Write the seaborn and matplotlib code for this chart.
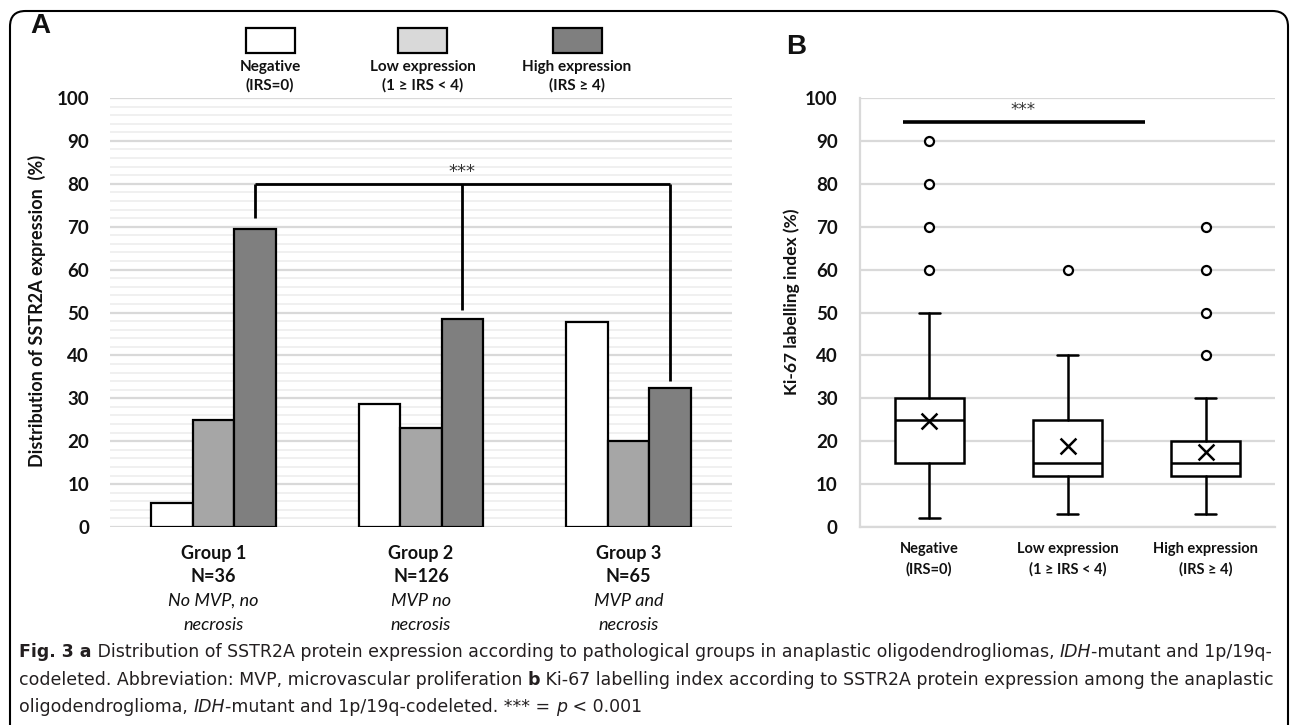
import matplotlib
matplotlib.use("Agg")
import matplotlib.pyplot as plt
from matplotlib.patches import Rectangle, FancyBboxPatch
from matplotlib.transforms import blended_transform_factory
import seaborn as sns
import pandas as pd
import numpy as np

# ---------------- data ----------------
groups = ["Group 1", "Group 2", "Group 3"]
group_n = ["N=36", "N=126", "N=65"]
group_desc = [["No MVP, no", "necrosis"], ["MVP no", "necrosis"], ["MVP and", "necrosis"]]
expr_levels = ["Negative", "Low expression", "High expression"]
expr_irs = ["(IRS=0)", "(1 \u2265 IRS < 4)", "(IRS \u2265 4)"]
negative_pct = [5.6, 28.6, 47.7]
low_pct = [25.0, 23.0, 20.0]
high_pct = [69.4, 48.4, 32.3]

# Ki-67 box statistics per SSTR2A class
box_labels = ["Negative", "Low expression", "High expression"]
ki_whislo = [2, 3, 3]
ki_q1 = [15, 12, 12]
ki_med = [25, 15, 15]
ki_q3 = [30, 25, 20]
ki_whishi = [50, 40, 30]
ki_mean = [24.8, 18.8, 17.5]
ki_fliers = [[60, 70, 80, 90], [60], [40, 50, 60, 70]]

# ---------------- style ----------------
sns.set_theme(style="white")
plt.rcParams["font.family"] = ["Lato", "DejaVu Sans"]
W, H = 1295, 725
fig = plt.figure(figsize=(W / 100, H / 100), dpi=100)
fig.patch.set_facecolor("white")


def fx(x):
    return x / W


def fy(y):
    return 1 - y / H


bar_colors = ["#ffffff", "#a6a6a6", "#7f7f7f"]
legend_colors = ["#ffffff", "#d9d9d9", "#7f7f7f"]

# ---------------- panel A ----------------
axA = fig.add_axes([fx(110), fy(527), fx(732) - fx(110), fy(98) - fy(527)])
df = pd.DataFrame({
    "group": np.repeat(groups, 3),
    "expr": expr_levels * 3,
    "value": [v for trip in zip(negative_pct, low_pct, high_pct) for v in trip],
})
sns.barplot(data=df, x="group", y="value", hue="expr", hue_order=expr_levels,
            palette=bar_colors, saturation=1, width=0.6, errorbar=None,
            edgecolor="black", linewidth=1.6, legend=False, ax=axA, zorder=3)
axA.set_xlim(-0.5, 2.5)
axA.set_ylim(0, 100)
axA.set_yticks(range(0, 101, 10))
axA.set_yticks(range(0, 101, 2), minor=True)
axA.grid(True, which="minor", axis="y", color="#eeeeee", lw=1.2, zorder=0)
axA.grid(True, which="major", axis="y", color="#d9d9d9", lw=1.6, zorder=0)
axA.set_axisbelow(True)
for s in axA.spines.values():
    s.set_visible(False)
axA.tick_params(axis="y", which="both", length=0, pad=15)
axA.tick_params(axis="x", length=0)
for lab in axA.get_yticklabels():
    lab.set_fontweight("bold")
    lab.set_fontsize(13.5)
    lab.set_color("#111111")
axA.set_xticks([0, 1, 2])
axA.set_xticklabels([])
axA.set_xlabel("")
axA.set_ylabel("")

tr = blended_transform_factory(axA.transData, fig.transFigure)
for i in range(3):
    axA.text(i, fy(553), groups[i], transform=tr, ha="center", va="center",
             fontsize=13, fontweight="bold", color="#111111")
    axA.text(i, fy(577), group_n[i], transform=tr, ha="center", va="center",
             fontsize=13, fontweight="bold", color="#111111")
    axA.text(i, fy(601), group_desc[i][0], transform=tr, ha="center", va="center",
             fontsize=13, style="italic", color="#111111")
    axA.text(i, fy(625), group_desc[i][1], transform=tr, ha="center", va="center",
             fontsize=13, style="italic", color="#111111")

fig.text(fx(37), fy(311), "Distribution of SSTR2A expression  (%)", rotation=90,
         ha="center", va="center", fontsize=13, fontweight="bold", color="#111111")

# significance bracket in A
bx = [0.2, 1.2, 2.2]
bottoms = [72, 50.5, 34]
axA.plot([bx[0], bx[2]], [80, 80], color="black", lw=2, zorder=4, solid_capstyle="butt")
for xb, yb in zip(bx, bottoms):
    axA.plot([xb, xb], [yb, 80], color="black", lw=2, zorder=4, solid_capstyle="butt")
axA.text(1.2, 80.6, "***", ha="center", va="bottom", fontsize=13,
         family=["DejaVu Sans"], color="#333333")

# legend A
legend_x = [270, 423, 577]
for cx, col, name, irs in zip(legend_x, legend_colors, expr_levels, expr_irs):
    fig.patches.append(Rectangle((fx(cx - 24.5), fy(53)), 49 / W, 25 / H,
                                 transform=fig.transFigure, facecolor=col,
                                 edgecolor="black", lw=1.6))
    fig.text(fx(cx), fy(67), name, ha="center", va="center", fontsize=11,
             fontweight="bold", color="#111111")
    fig.text(fx(cx), fy(85), irs, ha="center", va="center", fontsize=11,
             fontweight="bold", color="#111111")

fig.text(fx(40), fy(26), "A", ha="center", va="center", fontsize=20,
         fontweight="bold", family=["Liberation Sans", "DejaVu Sans"], color="#111111")
fig.text(fx(796), fy(47), "B", ha="center", va="center", fontsize=20,
         fontweight="bold", family=["Liberation Sans", "DejaVu Sans"], color="#111111")

# ---------------- panel B ----------------
axB = fig.add_axes([fx(860), fy(527), fx(1275) - fx(860), fy(98) - fy(527)])
stats = []
for i in range(3):
    stats.append(dict(label=box_labels[i], whislo=ki_whislo[i], q1=ki_q1[i],
                      med=ki_med[i], q3=ki_q3[i], whishi=ki_whishi[i],
                      mean=ki_mean[i], fliers=ki_fliers[i]))
lw = 1.8
axB.bxp(stats, positions=[0, 1, 2], widths=0.5, capwidths=0.15,
        showmeans=False, patch_artist=True,
        boxprops=dict(facecolor="white", edgecolor="black", lw=lw),
        whiskerprops=dict(color="black", lw=lw),
        capprops=dict(color="black", lw=lw),
        medianprops=dict(color="black", lw=lw),
        flierprops=dict(marker="o", markerfacecolor="white", markeredgecolor="black",
                        markersize=6.5, markeredgewidth=1.6),
        zorder=3)
sns.scatterplot(x=[0, 1, 2], y=ki_mean, marker="x", s=130, color="black",
                linewidth=1.8, ax=axB, zorder=5)
axB.set_xlim(-0.5, 2.5)
axB.set_ylim(0, 100)
axB.set_yticks(range(0, 101, 10))
axB.grid(True, axis="y", color="#d9d9d9", lw=1.6, zorder=0)
axB.set_axisbelow(True)
for k, s in axB.spines.items():
    if k in ("left", "bottom"):
        s.set_color("#d9d9d9")
        s.set_linewidth(1.6)
    else:
        s.set_visible(False)
axB.tick_params(axis="both", length=0)
axB.tick_params(axis="y", pad=16)
axB.tick_params(axis="x", pad=11)
axB.set_yticklabels([str(v) for v in range(0, 101, 10)], fontsize=13.5,
                    fontweight="bold", color="#111111")
axB.set_xticks([0, 1, 2])
axB.set_xticklabels([f"{a}\n{b}" for a, b in zip(box_labels, expr_irs)],
                    fontsize=10.5, fontweight="bold", color="#111111", linespacing=1.5)
axB.set_xlabel("")
axB.set_ylabel("")
fig.text(fx(792), fy(302), "Ki-67 labelling index (%)", rotation=90, ha="center",
         va="center", fontsize=12.5, fontweight="bold", color="#111111")
axB.plot([-0.19, 1.56], [94.5, 94.5], color="black", lw=2.6, zorder=4,
         solid_capstyle="butt")
axB.text(0.68, 95.2, "***", ha="center", va="bottom", fontsize=12,
         family=["DejaVu Sans"], color="#333333")

# ---------------- frame & caption ----------------
frame = FancyBboxPatch((fx(10), fy(760)), (1288 - 10) / W, (760 - 11) / H,
                       boxstyle="round,pad=0,rounding_size=0.012",
                       transform=fig.transFigure, facecolor="none",
                       edgecolor="black", lw=1.5, mutation_aspect=W / H)
fig.patches.append(frame)

cap_family = ["Liberation Sans Narrow", "DejaVu Sans"]
cap_size = 12.5
fig.canvas.draw()
renderer = fig.canvas.get_renderer()


def text_width(txt, **kw):
    t = fig.text(0, 0, "|" + txt + "|", **kw)
    w1 = t.get_window_extent(renderer).width
    t.remove()
    t = fig.text(0, 0, "||", **kw)
    w2 = t.get_window_extent(renderer).width
    t.remove()
    return w1 - w2


def draw_runs(x0, y, runs):
    x = x0
    for txt, st in runs:
        kw = dict(fontsize=cap_size, family=cap_family, color="#231f20")
        if st == "b":
            kw["fontweight"] = "bold"
        elif st == "i":
            kw["style"] = "italic"
        w = text_width(txt, **kw)
        fig.text(fx(x), fy(y), txt, ha="left", va="center", **kw)
        x += w


caption_lines = [
    [("Fig. 3 a", "b"), (" Distribution of SSTR2A protein expression according to pathological groups in anaplastic oligodendrogliomas, ", "n"), ("IDH", "i"), ("-mutant and 1p/19q-", "n")],
    [("codeleted. Abbreviation: MVP, microvascular proliferation ", "n"), ("b", "b"), (" Ki-67 labelling index according to SSTR2A protein expression among the anaplastic", "n")],
    [("oligodendroglioma, ", "n"), ("IDH", "i"), ("-mutant and 1p/19q-codeleted. *** = ", "n"), ("p", "i"), (" < 0.001", "n")],
]
for yy, runs in zip([652, 680, 707], caption_lines):
    draw_runs(19, yy, runs)

fig.savefig("out.png", dpi=100, facecolor="white")
